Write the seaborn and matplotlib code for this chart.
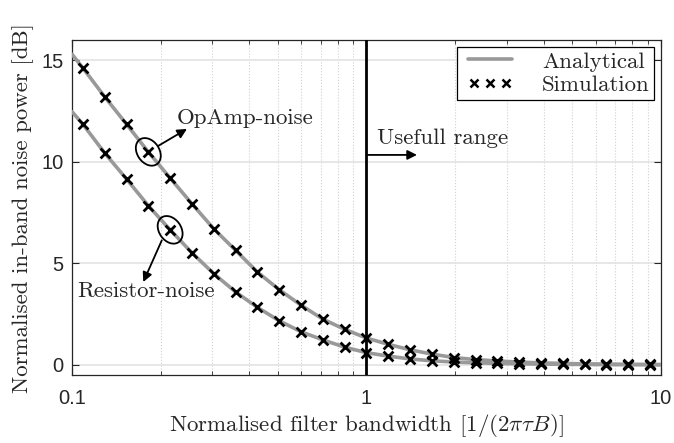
import numpy as np
import pandas as pd
import matplotlib
matplotlib.use("Agg")
import matplotlib.pyplot as plt
import seaborn as sns
import matplotlib.ticker as mticker
from matplotlib.patches import Ellipse
from matplotlib.transforms import ScaledTranslation
from matplotlib.lines import Line2D
from matplotlib.legend_handler import HandlerLine2D

# ---- data ----
bandwidth = [0.1089, 0.1292, 0.1532, 0.1816, 0.2154, 0.2555, 0.3030, 0.3594, 0.4262,
             0.5054, 0.5995, 0.7110, 0.8433, 1.0, 1.1860, 1.4065, 1.6681, 1.9783,
             2.3462, 2.7826, 3.3001, 3.9138, 4.6416, 5.5048, 6.5285, 7.7426, 9.1825]
opamp_sim = [14.62, 13.20, 11.85, 10.49, 9.20, 7.93, 6.70, 5.64, 4.57, 3.70, 2.94, 2.25,
             1.75, 1.32, 1.01, 0.74, 0.53, 0.36, 0.26, 0.19, 0.135, 0.097, 0.069, 0.049,
             0.035, 0.025, 0.018]
resistor_sim = [11.85, 10.43, 9.15, 7.84, 6.65, 5.52, 4.49, 3.59, 2.83, 2.17, 1.63, 1.23,
                0.87, 0.60, 0.43, 0.29, 0.20, 0.14, 0.10, 0.072, 0.052, 0.037, 0.027,
                0.019, 0.013, 0.009, 0.0065]
line_bw = [0.1] + bandwidth + [10.0]
opamp_line = [15.30] + opamp_sim + [0.015]
resistor_line = [12.47] + resistor_sim + [0.005]

xticks = [0.1, 1, 10]
xtick_labels = ["0.1", "1", "10"]
yticks = [0, 5, 10, 15]

sns.set_theme(style="white")
plt.rcParams["font.family"] = ["serif"]
plt.rcParams["font.serif"] = ["cmr10"]
plt.rcParams["mathtext.fontset"] = "cm"
plt.rcParams["axes.formatter.use_mathtext"] = True

FS = 16.5

fig = plt.figure(figsize=(6.74, 4.43), dpi=100)
ax = fig.add_axes([0.1068, 0.1535, 0.8739, 0.7562])

gray = "#999999"
sns.lineplot(x=line_bw, y=opamp_line, ax=ax, color=gray, lw=2.6, sort=False,
             estimator=None, zorder=3)
sns.lineplot(x=line_bw, y=resistor_line, ax=ax, color=gray, lw=2.6, sort=False,
             estimator=None, zorder=3)
for ys in (opamp_sim, resistor_sim):
    sns.scatterplot(x=bandwidth, y=ys, ax=ax, marker="x", color="black", s=50,
                    linewidth=2.0, zorder=4, legend=False)

ax.set_xscale("log")
ax.set_xlim(0.1, 10)
ax.set_ylim(-0.5, 16)
ax.set_xticks(xticks)
ax.xaxis.set_major_formatter(mticker.FixedFormatter(xtick_labels))
ax.xaxis.set_minor_locator(mticker.LogLocator(base=10, subs=np.arange(2, 10)))
ax.xaxis.set_minor_formatter(mticker.NullFormatter())
ax.set_yticks(yticks)
ax.set_yticklabels([str(v) for v in yticks])

ax.grid(True, which="major", axis="y", color="#e3e3e3", lw=1.2, ls="-", zorder=0)
ax.grid(True, which="major", axis="x", color="#d0d0d0", lw=0.8, ls=":", zorder=0)
ax.grid(True, which="minor", axis="x", color="#d0d0d0", lw=0.8, ls=":", zorder=0)
ax.set_axisbelow(True)

ax.tick_params(which="both", direction="in", top=True, right=True, bottom=True, left=True,
               labelsize=14.5, labelfontfamily="Liberation Sans", colors="#262626")
ax.tick_params(which="major", length=5, width=0.8)
ax.tick_params(which="minor", length=3, width=0.6)
ax.tick_params(axis="x", which="major", pad=10)
ax.tick_params(axis="y", which="major", pad=6)
for sp in ax.spines.values():
    sp.set_color("#262626")
    sp.set_linewidth(0.9)

ax.set_xlabel(r"Normalised filter bandwidth $[1/(2\pi\tau B)]$", fontsize=FS, labelpad=3)
ax.set_ylabel("Normalised in-band noise power [dB]", fontsize=FS, labelpad=5)

# vertical line at 1
ax.axvline(1.0, color="black", lw=2.0, zorder=5)

# annotations
def ell(xd, yd):
    e = Ellipse((0, 0), width=0.30, height=0.22, angle=-55, fill=False, lw=1.3,
                ec="black",
                transform=fig.dpi_scale_trans + ScaledTranslation(xd, yd, ax.transData),
                zorder=6)
    ax.add_patch(e)

ell(bandwidth[3], opamp_sim[3])
ell(bandwidth[4], resistor_sim[4])

arrow = dict(arrowstyle="-|>", color="black", lw=1.3, mutation_scale=14,
             shrinkA=0, shrinkB=0)
ax.annotate("", xy=(0.2457, 11.62), xytext=(0.196, 10.78), arrowprops=arrow, zorder=6)
ax.annotate("", xy=(0.1746, 4.08), xytext=(0.2018, 6.13), arrowprops=arrow, zorder=6)
ax.annotate("", xy=(1.484, 10.34), xytext=(1.0, 10.34), arrowprops=arrow, zorder=6)

ax.text(0.2267, 12.16, "OpAmp-noise", fontsize=FS, ha="left", va="center", zorder=6)
ax.text(0.1040, 3.63, "Resistor-noise", fontsize=FS, ha="left", va="center", zorder=6)
ax.text(1.086, 11.18, "Usefull range", fontsize=FS, ha="left", va="center", zorder=6)

line_h = Line2D([], [], color=gray, lw=2.6)
mark_h = Line2D([], [], color="black", marker="x", ls="none", markersize=5.5,
                markeredgewidth=1.8)
leg = ax.legend([line_h, mark_h], ["Analytical", "Simulation"], loc="upper right",
                numpoints=3, fontsize=FS, frameon=True, fancybox=False, framealpha=1,
                edgecolor="black", borderaxespad=0.3, handlelength=2.5,
                handletextpad=1.0, borderpad=0.2, labelspacing=0.15,
                handler_map={mark_h: HandlerLine2D(marker_pad=0.55, numpoints=3)})
leg.get_frame().set_linewidth(0.9)
leg.set_zorder(10)

fig.savefig("out.png", dpi=100)
